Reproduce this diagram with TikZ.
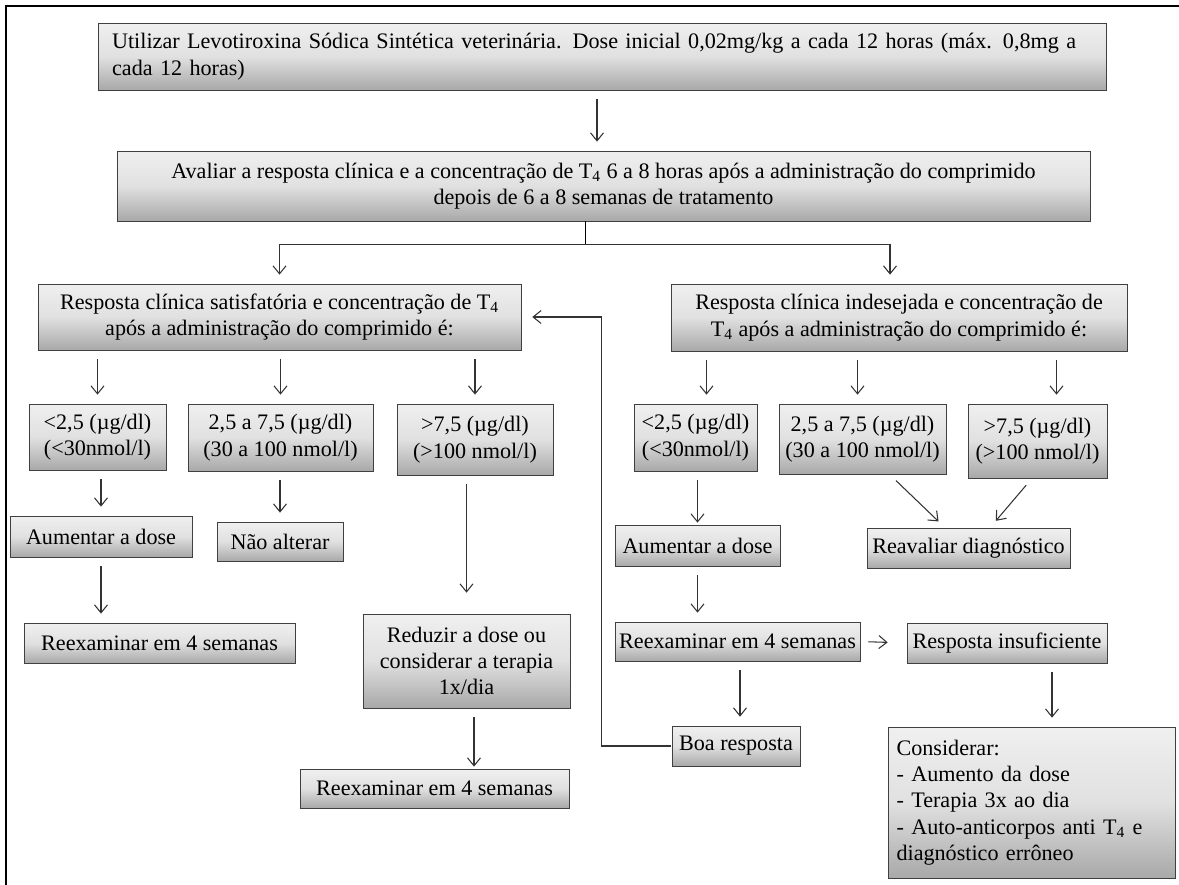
\documentclass[tikz,border=0pt]{standalone}
\usepackage{fontspec}
\setmainfont{Liberation Serif}
\usetikzlibrary{calc, arrows.meta}
\tikzstyle{block} = [rectangle, draw=black!75, top color=gray!12, bottom color=gray!68, middle color=gray!24, align=center, inner sep=2pt, font=\fontsize{12.6}{15}\selectfont]
\tikzstyle{arrow} = [draw=black!80, -{Straight Barb[length=1.6mm, width=2.6mm]}, line width=0.6pt, shorten <=0.18cm, shorten >=0.18cm]

\begin{document}
\begin{tikzpicture}[x=0.02cm, y=-0.02cm]
    \useasboundingbox (0,0) rectangle (1179,885);
    \draw [line width=1.1pt] (6,885) -- (6,6) -- (1179,6);

    % top of the chart
    \node (dose) [block, minimum width=20.16cm, minimum height=1.34cm, text width=19.6cm, align=left] at (602,56.5) {Utilizar Levotiroxina Sódica Sintética veterinária. Dose inicial 0,02mg/kg a cada 12 horas (máx. 0,8mg a\\ cada 12 horas)};
    \node (eval) [block, minimum width=19.46cm, minimum height=1.4cm] at (603.5,186) {Avaliar a resposta clínica e a concentração de T\textsubscript{4} 6 a 8 horas após a administração do comprimido\\ depois de 6 a 8 semanas de tratamento};

    \node (satis) [block, minimum width=9.66cm, minimum height=1.32cm] at (279.5,317) {Resposta clínica satisfatória e concentração de T\textsubscript{4}\\ após a administração do comprimido é:};
    \node (indes) [block, minimum width=9.12cm, minimum height=1.34cm] at (899,317.5) {Resposta clínica indesejada e concentração de\\ T\textsubscript{4} após a administração do comprimido é:};

    % satisfactory branch
    \node (lowA) [block, minimum width=2.74cm, minimum height=1.32cm] at (97.5,437) {<2,5 (µg/dl)\\ (<30nmol/l)};
    \node (midA) [block, minimum width=3.7cm, minimum height=1.34cm] at (280.5,437.5) {2,5 a 7,5 (µg/dl)\\ (30 a 100 nmol/l)};
    \node (highA) [block, minimum width=3.12cm, minimum height=1.42cm] at (475,439.5) {>7,5 (µg/dl)\\ (>100 nmol/l)};
    \node (aumA) [block, minimum width=3.64cm, minimum height=0.82cm] at (101,536.5) {Aumentar a dose};
    \node (naoA) [block, minimum width=2.52cm, minimum height=0.78cm] at (280,541.5) {Não alterar};
    \node (reexA) [block, minimum width=5.42cm, minimum height=0.8cm] at (159.5,643) {Reexaminar em 4 semanas};
    \node (reduz) [block, minimum width=4.14cm, minimum height=1.88cm] at (466.5,661) {Reduzir a dose ou\\ considerar a terapia\\ 1x/dia};
    \node (reexC) [block, minimum width=5.38cm, minimum height=0.78cm] at (434.5,788.5) {Reexaminar em 4 semanas};

    % undesired branch
    \node (lowB) [block, minimum width=2.46cm, minimum height=1.34cm] at (695.5,437.5) {<2,5 (µg/dl)\\ (<30nmol/l)};
    \node (midB) [block, minimum width=3.34cm, minimum height=1.4cm] at (862.5,439) {2,5 a 7,5 (µg/dl)\\ (30 a 100 nmol/l)};
    \node (highB) [block, minimum width=2.78cm, minimum height=1.48cm] at (1037.5,441) {>7,5 (µg/dl)\\ (>100 nmol/l)};
    \node (aumB) [block, minimum width=3.3cm, minimum height=0.82cm] at (697.5,545.5) {Aumentar a dose};
    \node (reav) [block, minimum width=4.06cm, minimum height=0.8cm] at (968.5,548) {Reavaliar diagnóstico};
    \node (reexB) [block, minimum width=4.9cm, minimum height=0.78cm] at (737.5,641.5) {Reexaminar em 4 semanas};
    \node (insuf) [block, minimum width=4cm, minimum height=0.8cm] at (1007,643) {Resposta insuficiente};
    \node (boa) [block, minimum width=2.56cm, minimum height=0.8cm] at (736,746) {Boa resposta};
    \node (consid) [block, minimum width=5.74cm, minimum height=3.02cm, text width=5.4cm, align=left] at (1031.5,802.5) {Considerar:\\ - Aumento da dose\\ - Terapia 3x ao dia\\ - Auto-anticorpos anti T\textsubscript{4} e\\ diagnóstico errôneo};

    % connectors
    \draw [arrow] ($(dose.south)+(-5,0)$) -- ($(eval.north)+(-6.5,0)$);
    \draw ($(eval.south)+(-18.5,0)$) -- ++(0,23) coordinate (split);
    \draw [arrow, shorten <=0pt] (split) -| (satis.north);
    \draw [arrow, shorten <=0pt] (split) -| ($(indes.north)+(-9,0)$);

    \draw [arrow] (satis.south -| lowA.north) -- (lowA.north);
    \draw [arrow] (satis.south -| midA.north) -- (midA.north);
    \draw [arrow] (satis.south -| highA.north) -- (highA.north);
    \draw [arrow] (lowA.south -| aumA.north) -- (aumA.north);
    \draw [arrow] (midA.south -| naoA.north) -- (naoA.north);
    \draw [arrow] (aumA.south) -- (aumA.south |- reexA.north);
    \draw [arrow, shorten >=0.42cm] (reduz.north |- highA.south) -- (reduz.north);
    \draw [arrow, shorten >=0.04cm] ($(reduz.south)+(7.5,0)$) -- ($(reduz.south |- reexC.north)+(7.5,0)$);

    \draw [arrow] ($(indes.south -| lowB.north)+(11,0)$) -- ($(lowB.north)+(11,0)$);
    \draw [arrow] ($(indes.south -| midB.north)+(-5,0)$) -- ($(midB.north)+(-5,0)$);
    \draw [arrow] ($(indes.south -| highB.north)+(19,0)$) -- ($(highB.north)+(19,0)$);
    \draw [arrow] ($(midB.south)+(27,0)$) -- ($(reav.north)+(-23.5,0)$);
    \draw [arrow] ($(highB.south)+(-5.5,0)$) -- ($(reav.north)+(21.5,0)$);
    \draw [arrow, shorten >=0.04cm] (lowB.south -| aumB.north) -- (aumB.north);
    \draw [arrow] (aumB.south) -- (aumB.south |- reexB.north);
    \draw [arrow, shorten <=0.16cm, shorten >=0.38cm] (reexB.east) -- (insuf.west);
    \draw [arrow] ($(reexB.south)+(2.5,0)$) -- ($(reexB.south |- boa.north)+(2.5,0)$);
    \draw [arrow] ($(insuf.south)+(45,0)$) -- ($(insuf.south |- consid.north)+(45,0)$);
    \draw [arrow, shorten <=0.02cm, shorten >=0.22cm] (boa.west) -- ++(-70,0) |- (satis.east);
\end{tikzpicture}
\end{document}
